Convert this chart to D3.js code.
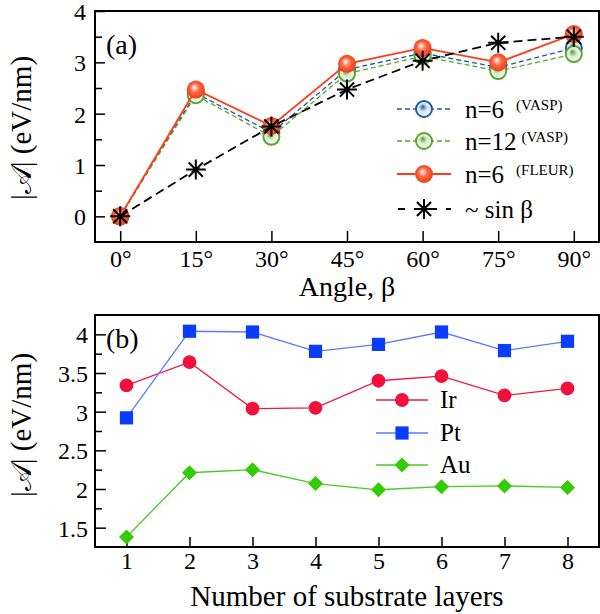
<!DOCTYPE html>
<html><head><meta charset="utf-8">
<script src="https://cdn.jsdelivr.net/npm/d3@7"></script>
<style>
body{margin:0;background:#fff}
</style>
</head><body>
<svg id="chart" width="600" height="614"></svg>
<script>
// Panel (a): anisotropy magnitude vs. magnetization angle
const angles = [0, 15, 30, 45, 60, 75, 90];
const angleTickLabels = ["0°", "15°", "30°", "45°", "60°", "75°", "90°"];
const vaspN6 = [0, 2.40, 1.63, 2.86, 3.18, 2.90, 3.28];
const vaspN12 = [0, 2.36, 1.55, 2.78, 3.12, 2.83, 3.16];
const fleurN6 = [0, 2.47, 1.76, 2.97, 3.28, 3.00, 3.55];
const sinFit = [0, 0.91, 1.75, 2.47, 3.03, 3.38, 3.50];
const yTicksA = [0, 1, 2, 3, 4];

// Panel (b): anisotropy magnitude vs. number of substrate layers
const layers = [1, 2, 3, 4, 5, 6, 7, 8];
const irValues = [3.34, 3.64, 3.04, 3.05, 3.40, 3.46, 3.21, 3.30];
const ptValues = [2.92, 4.04, 4.03, 3.78, 3.87, 4.03, 3.79, 3.91];
const auValues = [1.38, 2.21, 2.25, 2.07, 1.99, 2.03, 2.04, 2.02];
const yTicksB = [1.5, 2, 2.5, 3, 3.5, 4];
const yTickLabelsB = ["1.5", "2", "2.5", "3", "3.5", "4"];

const FONT = '"Liberation Serif"';
const svg = d3.select("#chart");
const defs = svg.append("defs");

function txt(g, x, y, size, s) {
  return g.append("text").attr("x", x).attr("y", y).attr("font-size", size)
    .style("font-family", FONT).attr("fill", "#000").text(s);
}

function ballGradient(id, center, mid, edge) {
  const g = defs.append("radialGradient").attr("id", id)
    .attr("cx", "50%").attr("cy", "50%").attr("r", "55%")
    .attr("fx", "40%").attr("fy", "35%");
  g.append("stop").attr("offset", "0%").attr("stop-color", center);
  g.append("stop").attr("offset", "45%").attr("stop-color", mid);
  g.append("stop").attr("offset", "100%").attr("stop-color", edge);
}
ballGradient("gFleur", "#ffffff", "#ff6a45", "#f2350f");
ballGradient("gBlue", "#1d5aa6", "#d6e2f0", "#ffffff");
ballGradient("gGreen", "#4e9e26", "#dcebd2", "#ffffff");

const left = 95, right = 599;

function styleAxis(g) {
  g.attr("font-family", null).attr("font-size", null);
  g.select(".domain").remove();
  g.selectAll("text").attr("font-size", 24).style("font-family", FONT).attr("fill", "#000");
  g.selectAll("line").attr("stroke-width", 1.5);
}

// ---------- panel (a) ----------
const xA = d3.scaleLinear().domain([-5, 95]).range([left, right]);
const yA = d3.scaleLinear().domain([-0.5, 4]).range([242, 11]);
const gA = svg.append("g");

gA.append("g").attr("transform", "translate(0,242)")
  .call(d3.axisBottom(xA).tickValues(angles).tickFormat((d, i) => angleTickLabels[i])
    .tickSizeInner(-11).tickSizeOuter(0).tickPadding(8))
  .call(styleAxis);

gA.append("g").attr("transform", `translate(${left},0)`)
  .call(d3.axisLeft(yA).tickValues(yTicksA).tickFormat(d3.format("d"))
    .tickSizeInner(-10).tickSizeOuter(0).tickPadding(9))
  .call(styleAxis)
  .call(g => g.selectAll("text").attr("dy", "0.36em"));
gA.append("g").attr("transform", `translate(${left},0)`)
  .call(d3.axisLeft(yA).tickValues([0.5, 1.5, 2.5, 3.5]).tickFormat("")
    .tickSizeInner(-7).tickSizeOuter(0))
  .call(styleAxis);

gA.append("rect").attr("x", left).attr("y", 11).attr("width", right - left).attr("height", 231)
  .attr("fill", "none").attr("stroke", "#000").attr("stroke-width", 2);

const lineA = d3.line().x((d, i) => xA(angles[i])).y(d => yA(d));

function ringSeries(vals, color, grad) {
  gA.append("path").attr("d", lineA(vals)).attr("fill", "none")
    .attr("stroke", color).attr("stroke-width", 1.3).attr("stroke-dasharray", "5,3");
  gA.selectAll(null).data(vals).join("circle")
    .attr("cx", (d, i) => xA(angles[i])).attr("cy", d => yA(d)).attr("r", 8)
    .attr("fill", `url(#${grad})`).attr("stroke", color).attr("stroke-width", 2);
}
ringSeries(vaspN6, "#1d5aa6", "gBlue");
ringSeries(vaspN12, "#58a82c", "gGreen");

gA.append("path").attr("d", lineA(fleurN6)).attr("fill", "none")
  .attr("stroke", "#ff3c1a").attr("stroke-width", 1.8);
gA.selectAll(null).data(fleurN6).join("circle")
  .attr("cx", (d, i) => xA(angles[i])).attr("cy", d => yA(d)).attr("r", 9)
  .attr("fill", "url(#gFleur)");

gA.append("path").attr("d", lineA(sinFit)).attr("fill", "none")
  .attr("stroke", "#000").attr("stroke-width", 1.8).attr("stroke-dasharray", "9,5");

function star(g, cx, cy, r) {
  const a = r * Math.SQRT1_2;
  g.append("path")
    .attr("d", `M${cx - r},${cy}H${cx + r}M${cx},${cy - r}V${cy + r}` +
      `M${cx - a},${cy - a}L${cx + a},${cy + a}M${cx - a},${cy + a}L${cx + a},${cy - a}`)
    .attr("stroke", "#000").attr("stroke-width", 2).attr("fill", "none");
}
sinFit.forEach((d, i) => star(gA, xA(angles[i]), yA(d), 10));

txt(gA, 106, 54, 28, "(a)");

// legend (a)
const legA = [
  { y: 109, name: "n=6", sup: "(VASP)", color: "#1d5aa6", grad: "gBlue", kind: "ring" },
  { y: 141, name: "n=12", sup: "(VASP)", color: "#58a82c", grad: "gGreen", kind: "ring" },
  { y: 174, name: "n=6", sup: "(FLEUR)", color: "#ff3c1a", grad: "gFleur", kind: "ball" },
  { y: 209, name: "~ sin β", sup: "", color: "#000", kind: "star" }
];
legA.forEach(e => {
  const l = gA.append("line").attr("x1", 397).attr("x2", 451).attr("y1", e.y).attr("y2", e.y)
    .attr("stroke", e.color);
  if (e.kind === "ring") l.attr("stroke-width", 1.3).attr("stroke-dasharray", "5,3");
  else if (e.kind === "ball") l.attr("stroke-width", 1.8);
  else l.attr("stroke-width", 1.8).attr("stroke-dasharray", "7,9").attr("x1", 398);
  if (e.kind === "ring")
    gA.append("circle").attr("cx", 424).attr("cy", e.y).attr("r", 8)
      .attr("fill", `url(#${e.grad})`).attr("stroke", e.color).attr("stroke-width", 2);
  else if (e.kind === "ball")
    gA.append("circle").attr("cx", 424).attr("cy", e.y).attr("r", 9).attr("fill", "url(#gFleur)");
  else star(gA, 424, e.y, 10);
  const t = txt(gA, 465, e.y + 9, 25, e.name);
  if (e.sup) {
    const w = t.node().getComputedTextLength();
    txt(gA, 465 + w + (e.name === "n=12" ? 5 : 12), e.y + 1, 15, e.sup);
  }
});

txt(gA, (left + right) / 2, 296, 28, "Angle, β").attr("text-anchor", "middle");

function yTitle(cy) {
  const t = svg.append("text").attr("transform", `translate(31,${cy}) rotate(-90)`)
    .attr("text-anchor", "middle").attr("font-size", 29).style("font-family", FONT);
  t.append("tspan").text("|");
  t.append("tspan").text("𝒜");
  t.append("tspan").text("| (eV/nm)");
}
yTitle(128);

// ---------- panel (b) ----------
const xB = d3.scaleLinear().domain([0.5, 8.5]).range([left, right]);
const yB = d3.scaleLinear().domain([1.25, 4.25]).range([547, 315]);
const gB = svg.append("g");

gB.append("g").attr("transform", "translate(0,547)")
  .call(d3.axisBottom(xB).tickValues(layers).tickFormat(d3.format("d"))
    .tickSizeInner(-10).tickSizeOuter(0).tickPadding(5))
  .call(styleAxis);

gB.append("g").attr("transform", `translate(${left},0)`)
  .call(d3.axisLeft(yB).tickValues(yTicksB).tickFormat((d, i) => yTickLabelsB[i])
    .tickSizeInner(-11).tickSizeOuter(0).tickPadding(7))
  .call(styleAxis)
  .call(g => g.selectAll("text").attr("dy", "0.36em"));
gB.append("g").attr("transform", `translate(${left},0)`)
  .call(d3.axisLeft(yB).tickValues([1.75, 2.25, 2.75, 3.25, 3.75]).tickFormat("")
    .tickSizeInner(-7).tickSizeOuter(0))
  .call(styleAxis);

gB.append("rect").attr("x", left).attr("y", 315).attr("width", right - left).attr("height", 232)
  .attr("fill", "none").attr("stroke", "#000").attr("stroke-width", 2);

const lineB = d3.line().x((d, i) => xB(layers[i])).y(d => yB(d));
const circleSym = d3.symbol().type(d3.symbolCircle).size(150);
const squareSym = d3.symbol().type(d3.symbolSquare).size(175);
const diamondPath = (cx, cy, r) => `M${cx},${cy - r}L${cx + r},${cy}L${cx},${cy + r}L${cx - r},${cy}Z`;

const seriesB = [
  { vals: irValues, name: "Ir", line: "#f0183f", mark: "#f0103c", kind: "circle", ly: 400 },
  { vals: ptValues, name: "Pt", line: "#5a7bff", mark: "#0a3cff", kind: "square", ly: 433 },
  { vals: auValues, name: "Au", line: "#48cc1e", mark: "#33cc00", kind: "diamond", ly: 465 }
];
function markB(g, s, cx, cy) {
  if (s.kind === "diamond")
    g.append("path").attr("d", diamondPath(cx, cy, 7.5)).attr("fill", s.mark);
  else
    g.append("path").attr("d", (s.kind === "circle" ? circleSym : squareSym)())
      .attr("transform", `translate(${cx},${cy})`).attr("fill", s.mark);
}
seriesB.forEach(s => {
  gB.append("path").attr("d", lineB(s.vals)).attr("fill", "none")
    .attr("stroke", s.line).attr("stroke-width", 1.3);
  s.vals.forEach((d, i) => markB(gB, s, xB(layers[i]), yB(d)));
  gB.append("line").attr("x1", 376).attr("x2", 428).attr("y1", s.ly).attr("y2", s.ly)
    .attr("stroke", s.line).attr("stroke-width", 1.3);
  markB(gB, s, 402, s.ly);
  txt(gB, 440, s.ly + 8, 25, s.name);
});

txt(gB, 106, 348, 28, "(b)");
txt(gB, (left + right) / 2, 606, 29, "Number of substrate layers").attr("text-anchor", "middle");
yTitle(425);
</script>
</body></html>
